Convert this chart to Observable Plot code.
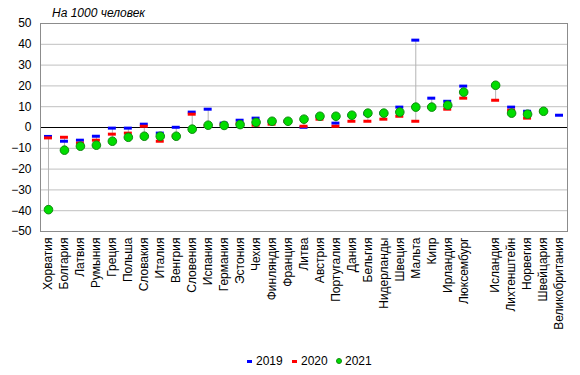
<!DOCTYPE html>
<html><head><meta charset="utf-8">
<script src="https://cdn.jsdelivr.net/npm/d3@7"></script>
<script src="https://cdn.jsdelivr.net/npm/@observablehq/plot@0.6"></script>
<style>
body{margin:0;background:#fff;font-family:"Liberation Sans",Arial,sans-serif;}
#wrap{position:relative;width:580px;height:375px;overflow:hidden;}
#chart{position:absolute;left:0;top:0;}
#title{position:absolute;left:52px;top:6px;font-size:12px;font-style:italic;color:#000;}
.lg{position:absolute;top:354px;font-size:12px;color:#000;line-height:14px;}
.sw{position:absolute;}
</style></head>
<body>
<div id="wrap">
  <div id="chart"></div>
  <div id="title">На 1000 человек</div>
  <div id="legend"></div>
</div>
<script>
const countries = ["Хорватия","Болгария","Латвия","Румыния","Греция","Польша","Словакия","Италия","Венгрия","Словения","Испания","Германия","Эстония","Чехия","Финляндия","Франция","Литва","Австрия","Португалия","Дания","Бельгия","Нидерланды","Швеция","Мальта","Кипр","Ирландия","Люксембург"," ","Исландия","Лихтенштейн","Норвегия","Швейцария","Великобритания"];
const v2019 = [-4.3,-6.6,-6.1,-4.2,-0.3,-0.3,1.6,-2.7,0.1,7.4,8.8,2.1,3.5,4.5,3.0,3.0,0.1,5.4,2.1,5.9,6.5,6.9,9.8,42.0,14.1,12.6,19.9,null,20.3,9.8,7.8,7.8,5.9];
const v2020 = [-5.0,-4.7,-7.5,-6.1,-3.2,-2.7,0.6,-6.6,-4.0,6.4,1.0,1.5,2.0,1.1,1.6,3.0,0.6,4.0,0.6,3.0,3.0,4.0,5.4,3.0,9.8,8.8,14.1,null,13.1,8.3,4.5,7.8,null];
const v2021 = [-39.5,-10.9,-9.0,-8.5,-6.6,-4.7,-4.2,-4.2,-4.2,-0.8,1.1,1.0,1.4,2.5,3.0,3.0,4.0,5.4,5.4,5.9,6.9,6.9,7.4,9.8,9.8,10.7,17.0,null,20.3,6.9,6.4,7.8,null];
const yTicks = [-50,-40,-30,-20,-10,0,10,20,30,40,50];
const seriesNames = ["2019","2020","2021"];

const rows = countries.map((c,i)=>({c, a:v2019[i], b:v2020[i], g:v2021[i]}));
const ranges = rows.map(r=>{
  const vals=[r.a,r.b,r.g].filter(v=>v!=null);
  return {c:r.c, lo:vals.length?Math.min(...vals):null, hi:vals.length?Math.max(...vals):null};
}).filter(r=>r.lo!=null && r.hi>r.lo);

const chart = Plot.plot({
  width:580, height:345,
  marginLeft:40, marginRight:13, marginTop:23, marginBottom:114,
  style:{fontFamily:'"Liberation Sans",Arial,sans-serif', fontSize:"12px", color:"#000", background:"#fff"},
  x:{type:"band", domain:countries, padding:0, axis:null},
  y:{domain:[-50,50], axis:null},
  marks:[
    Plot.ruleY(yTicks.filter(t=>t!==0 && t!==50 && t!==-50), {stroke:"#c0c0c0", strokeWidth:1}),
    Plot.ruleX(ranges, {x:"c", y1:"lo", y2:"hi", stroke:"#b4b4b4", strokeWidth:1}),
    Plot.ruleY([0], {stroke:"#000", strokeWidth:1.2}),
    Plot.tickY(rows.filter(r=>r.a!=null), {x:"c", y:"a", stroke:"#0000ff", strokeWidth:3, insetLeft:4, insetRight:4}),
    Plot.tickY(rows.filter(r=>r.b!=null), {x:"c", y:"b", stroke:"#ff0000", strokeWidth:3, insetLeft:4, insetRight:4}),
    Plot.dot(rows.filter(r=>r.g!=null), {x:"c", y:"g", r:4.3, fill:"#00dd00", stroke:"#118a11", strokeWidth:1}),
    Plot.frame({stroke:"#8c8c8c", strokeWidth:1}),
    Plot.axisY({ticks:yTicks, tickSize:0, tickPadding:9, fontSize:12, label:null}),
    Plot.axisX({tickSize:0, tickPadding:6, tickRotate:-90, fontSize:12, label:null, tickFormat:d=>d.trim()})
  ]
});
document.getElementById("chart").appendChild(chart);

// legend
const lg = document.getElementById("legend");
const items = [
  {name:seriesNames[0], x:247, kind:"dash", color:"#0000ff"},
  {name:seriesNames[1], x:292, kind:"dash", color:"#ff0000"},
  {name:seriesNames[2], x:336, kind:"dot", color:"#00dd00"}
];
items.forEach(it=>{
  const s=document.createElement("div");
  s.className="sw";
  if(it.kind==="dash"){
    s.style.cssText=`left:${it.x}px;top:360px;width:5px;height:3px;background:${it.color};`;
  } else {
    s.style.cssText=`left:${it.x}px;top:358px;width:4px;height:4px;border-radius:50%;background:${it.color};border:1px solid #118a11;`;
  }
  lg.appendChild(s);
  const t=document.createElement("div");
  t.className="lg";
  t.style.left=(it.x+9)+"px";
  t.textContent=it.name;
  lg.appendChild(t);
});
</script>
</body></html>
